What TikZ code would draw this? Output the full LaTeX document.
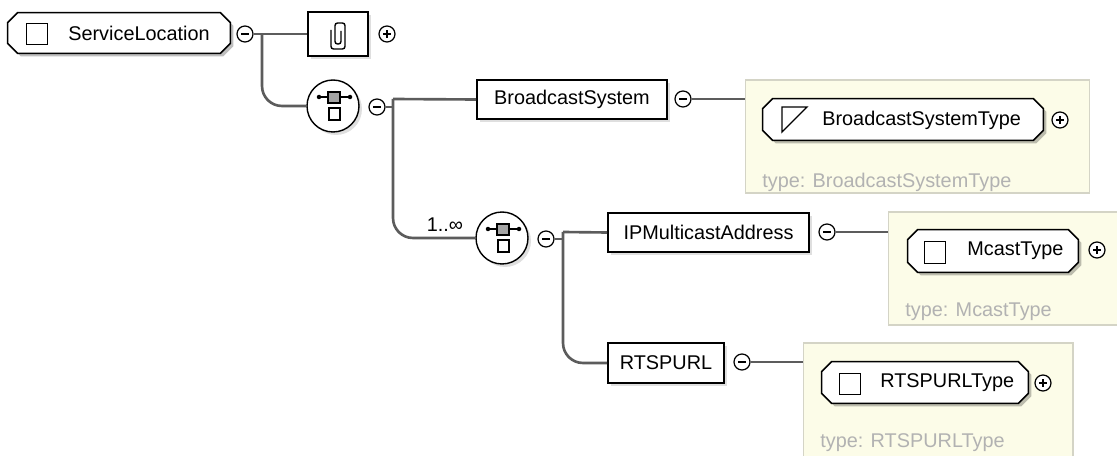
\documentclass[tikz,border=0pt]{standalone}
\usepackage{fontspec}
\setmainfont{Liberation Sans}
\usetikzlibrary{shadows}

\definecolor{connGray}{RGB}{92,92,92}
\definecolor{typeFill}{RGB}{252,252,232}
\definecolor{typeEdge}{RGB}{212,212,198}
\definecolor{typeText}{RGB}{178,178,178}
\definecolor{seqGray}{RGB}{165,165,165}

% chamfered outline round a named node
\newcommand\octpath[1]{([xshift=0.2cm]#1.north west) -- ([xshift=-0.2cm]#1.north east) -- ([yshift=-0.2cm]#1.north east) -- ([yshift=0.2cm]#1.south east) -- ([xshift=-0.2cm]#1.south east) -- ([xshift=0.2cm]#1.south west) -- ([yshift=0.2cm]#1.south west) -- ([yshift=-0.2cm]#1.north west) -- cycle}
\newcommand\octbox[1]{%
	\fill[black, opacity=0.25, transform canvas={shift={(0.06cm,-0.06cm)}}] \octpath{#1};
	\draw[line width=0.9pt, fill=white] \octpath{#1};}

\begin{document}
\begin{tikzpicture}[x=0.02cm, y=-0.02cm,
	every node/.style={font=\fontsize{11.3}{13}\selectfont},
	conn/.style={connGray, line width=1.5pt},
	shade/.style={drop shadow={shadow xshift=0.06cm, shadow yshift=-0.06cm, opacity=0.25}},
	elem/.style={draw, line width=0.9pt, fill=white, minimum height=0.78cm, inner sep=0pt, shade},
	ctype/.style={rectangle, minimum height=0.82cm, inner sep=0pt},
	typebox/.style={draw=typeEdge, fill=typeFill, line width=0.6pt, minimum height=2.26cm, inner sep=0pt},
	typetext/.style={text=typeText, anchor=west, inner sep=0pt},
	lbl/.style={anchor=west, inner sep=0pt},
	icon/.style={draw, line width=0.8pt, minimum size=0.43cm, inner sep=0pt},
	seq/.style={circle, draw, line width=0.8pt, fill=white, minimum size=1.04cm, inner sep=0pt, shade},
	btn/.style={circle, draw, line width=0.7pt, fill=white, minimum size=0.32cm, inner sep=0pt},
	minusbtn/.style={btn, path picture={\draw[line width=0.7pt] ([xshift=-0.08cm]path picture bounding box.center) -- ([xshift=0.08cm]path picture bounding box.center);}},
	plusbtn/.style={btn, path picture={\draw[line width=0.7pt] ([xshift=-0.08cm]path picture bounding box.center) -- ([xshift=0.08cm]path picture bounding box.center) ([yshift=-0.08cm]path picture bounding box.center) -- ([yshift=0.08cm]path picture bounding box.center);}}]
	\clip (0,0) rectangle (1117,456);

	% root element and its attachment
	\node[ctype, minimum width=4.44cm, minimum height=0.8cm] (sl) at (119,33) {};
	\octbox{sl}
	\node[icon] (slicon) at (37,34) {};
	\node[lbl] (sltext) at (68,33) {ServiceLocation};
	\node[minusbtn] (slmin) at (245,34) {};
	\node[elem, minimum width=1.2cm, minimum height=0.88cm] (clip) at (338,34) {};
	\begin{scope}[shift={(clip.center)}]
		\draw[line width=0.8pt, rounded corners=0.05cm] (3,-3) -- (3,10) -- (-3,10) -- (-3,-11) -- (7,-11) -- (7,15) -- (-7,15) -- (-7,-4);
	\end{scope}
	\node[plusbtn] (clipplus) at (387,34) {};

	% sequences
	\node[seq] (seqa) at (333,106) {};
	\node[minusbtn] (seqamin) at (377,107) {};
	\node[seq] (seqb) at (502,238) {};
	\node[minusbtn] (seqbmin) at (546,239) {};
	\node[lbl, anchor=center] (card) at (445,225) {1..∞};
	\foreach \s in {seqa,seqb} {
		\begin{scope}[shift={(\s.center)}]
			\draw[line width=0.6pt] (-14,-9) -- (17,-9);
			\fill (-14,-9) circle[radius=0.045cm] (17,-9) circle[radius=0.045cm];
			\draw[line width=0.6pt, fill=seqGray] (-5,-14) rectangle (7,-3);
			\draw[line width=0.6pt, fill=white] (-4,2) rectangle (7,14);
		\end{scope}
	}

	% child elements
	\node[elem, minimum width=3.8cm] (bs) at (572,99.5) {BroadcastSystem};
	\node[minusbtn] (bsmin) at (683,99) {};
	\node[elem, minimum width=4.02cm] (ip) at (708.5,232.5) {IPMulticastAddress};
	\node[minusbtn] (ipmin) at (827,232) {};
	\node[elem, minimum width=2.32cm, minimum height=0.8cm] (rt) at (666,363) {RTSPURL};
	\node[minusbtn] (rtmin) at (742,362) {};

	% types
	\node[typebox, minimum width=6.9cm] (bsbox) at (917.5,136.5) {};
	\node[ctype, minimum width=5.6cm] (bst) at (903,119.5) {};
	\octbox{bst}
	\draw[line width=0.8pt] (782,132) -- (782,107) -- (807,107) -- cycle;
	\node[lbl] (bsttext) at (822,120) {BroadcastSystemType};
	\node[plusbtn] (bstplus) at (1060,120) {};
	\node[typetext] (bstnote) at (762,182) {type: BroadcastSystemType};

	\node[typebox, minimum width=4.74cm] (mtbox) at (1006.5,268.5) {};
	\node[ctype, minimum width=3.4cm, minimum height=0.84cm] (mt) at (993,251) {};
	\octbox{mt}
	\node[icon] (mticon) at (935,252.5) {};
	\node[lbl] (mttext) at (967,251) {McastType};
	\node[plusbtn] (mtplus) at (1097,250) {};
	\node[typetext] (mtnote) at (905,312) {type: McastType};

	\node[typebox, minimum width=5.4cm, minimum height=2.54cm] (rtbox) at (938,406.5) {};
	\node[ctype, minimum width=4.12cm] (rtt) at (925,382.5) {};
	\octbox{rtt}
	\node[icon] (rtticon) at (850,384) {};
	\node[lbl] (rtttext) at (880,383) {RTSPURLType};
	\node[plusbtn] (rttplus) at (1043,383) {};
	\node[typetext] (rttnote) at (820,443) {type: RTSPURLType};

	% connectors
	\coordinate (ta) at (262,34);
	\coordinate (tb) at (393,99);
	\coordinate (tc) at (563,232);
	\draw[conn] (slmin) -- (clip);
	\draw[conn, rounded corners=0.4cm] (ta) |- (seqa);
	\draw[conn] (seqamin) -- (seqamin -| tb);
	\draw[conn] (tb) -- (bs.west);
	\draw[conn, rounded corners=0.4cm] (tb) |- (seqb);
	\draw[conn] (seqbmin) -- (seqbmin -| tc);
	\draw[conn] (tc) -- (ip.west);
	\draw[conn, rounded corners=0.4cm] (tc) |- (rt);
	\draw[conn] (bsmin) -- (bsmin -| bsbox.west);
	\draw[conn] (ipmin) -- (ipmin -| mtbox.west);
	\draw[conn] (rtmin) -- (rtmin -| rtbox.west);
\end{tikzpicture}
\end{document}
